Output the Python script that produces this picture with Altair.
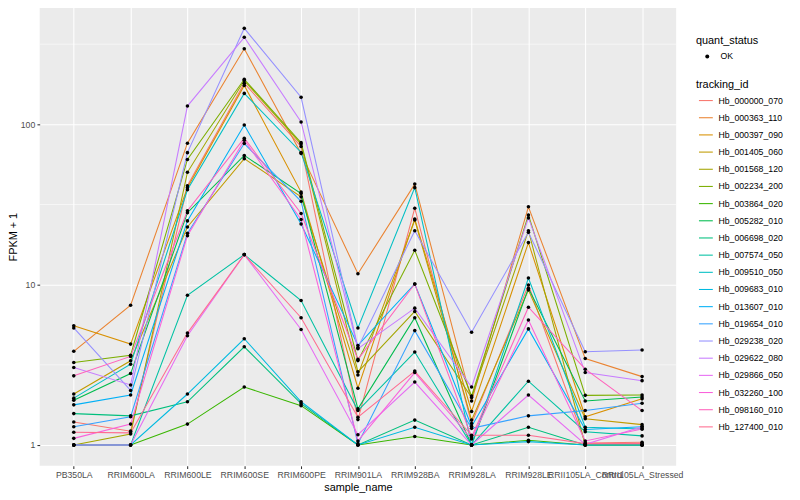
import math
import altair as alt
import pandas as pd

samples = ["PB350LA", "RRIM600LA", "RRIM600LE", "RRIM600SE", "RRIM600PE",
           "RRIM901LA", "RRIM928BA", "RRIM928LA", "RRIM928LE",
           "RRII105LA_Control", "RRII105LA_Stressed"]

tracking_ids = ["Hb_000000_070", "Hb_000363_110", "Hb_000397_090", "Hb_001405_060",
                "Hb_001568_120", "Hb_002234_200", "Hb_003864_020", "Hb_005282_010",
                "Hb_006698_020", "Hb_007574_050", "Hb_009510_050", "Hb_009683_010",
                "Hb_013607_010", "Hb_019654_010", "Hb_029238_020", "Hb_029622_080",
                "Hb_029866_050", "Hb_032260_100", "Hb_098160_010", "Hb_127400_010"]

# FPKM + 1 per sample (order of `samples`)
hb_000000_070 = [1.39, 1.22, 41.4, 180.6, 72.7, 1.44, 30.0, 1.36, 9.95, 1.03, 1.04]
hb_000363_110 = [3.84, 7.45, 76.3, 296, 65.9, 11.7, 42.4, 1.88, 30.6, 3.46, 2.67]
hb_000397_090 = [5.55, 4.26, 40.3, 174.8, 37.8, 2.26, 25.7, 1.62, 18.3, 1.50, 1.94]
hb_001405_060 = [2.08, 3.35, 22.9, 61.1, 35.3, 2.73, 25.3, 1.43, 9.26, 1.46, 1.34]
hb_001568_120 = [1.0, 1.17, 50.2, 187.6, 75.3, 2.86, 6.81, 1.98, 21.7, 1.0, 1.0]
hb_002234_200 = [3.27, 3.63, 60.4, 191, 76.9, 3.36, 16.4, 2.02, 27.2, 2.04, 2.05]
hb_003864_020 = [1.0, 1.0, 1.35, 2.3, 1.76, 1.0, 1.13, 1.0, 1.07, 1.0, 1.0]
hb_005282_010 = [1.90, 2.79, 28.1, 64, 37.0, 1.68, 6.22, 1.0, 9.49, 1.88, 1.99]
hb_006698_020 = [1.57, 1.52, 1.86, 4.1, 1.81, 1.0, 1.43, 1.0, 1.29, 1.0, 1.0]
hb_007574_050 = [1.0, 1.0, 8.59, 15.4, 7.96, 1.64, 3.80, 1.0, 2.50, 1.21, 1.14]
hb_009510_050 = [1.96, 3.19, 39.1, 156, 66.8, 5.37, 40.3, 1.0, 11.0, 1.29, 1.26]
hb_009683_010 = [1.0, 1.0, 2.08, 4.6, 1.86, 1.0, 1.29, 1.0, 1.05, 1.0, 1.0]
hb_013607_010 = [1.78, 2.05, 25.0, 99, 23.9, 4.18, 10.1, 1.31, 5.30, 1.25, 1.30]
hb_019654_010 = [1.30, 1.50, 20.9, 75.9, 33.1, 1.02, 5.17, 1.27, 1.52, 1.64, 1.82]
hb_029238_020 = [5.37, 2.19, 66.6, 397, 147.5, 4.04, 21.7, 5.05, 21.2, 3.82, 3.91]
hb_029622_080 = [3.04, 2.37, 130, 349, 103.5, 3.99, 7.14, 2.30, 26.1, 2.83, 2.52]
hb_029866_050 = [1.0, 1.0, 4.80, 15.4, 5.25, 1.16, 2.47, 1.0, 2.05, 1.01, 1.30]
hb_032260_100 = [1.10, 1.35, 20.2, 79.6, 25.5, 1.06, 2.83, 1.09, 6.02, 1.06, 1.26]
hb_098160_010 = [2.70, 3.57, 28.9, 82, 27.8, 3.42, 10.1, 1.12, 7.24, 2.97, 1.64]
hb_127400_010 = [1.20, 1.19, 4.99, 15.4, 6.22, 1.49, 2.89, 1.15, 1.15, 1.02, 1.02]

series = [hb_000000_070, hb_000363_110, hb_000397_090, hb_001405_060, hb_001568_120,
          hb_002234_200, hb_003864_020, hb_005282_010, hb_006698_020, hb_007574_050,
          hb_009510_050, hb_009683_010, hb_013607_010, hb_019654_010, hb_029238_020,
          hb_029622_080, hb_029866_050, hb_032260_100, hb_098160_010, hb_127400_010]

colors = ["#F8766D", "#EA8331", "#D89000", "#C09B00", "#A3A500", "#7CAE00", "#39B600",
          "#00BB4E", "#00BF7D", "#00C1A3", "#00BFC4", "#00BAE0", "#00B0F6", "#35A2FF",
          "#9590FF", "#C77CFF", "#E76BF3", "#FA62DB", "#FF62BC", "#FF6C90"]

y_major = [1, 10, 100]
y_minor = [10 ** 0.5, 10 ** 1.5, 10 ** 2.5]

rows = []
for tid, vals in zip(tracking_ids, series):
    for i, (s, v) in enumerate(zip(samples, vals)):
        rows.append({"tracking_id": tid, "sample_name": s, "idx": i,
                     "value": v, "quant_status": "OK"})
df = pd.DataFrame(rows)

# ggplot-like 5% expansion of the log range
lo = math.log10(df["value"].min())
hi = math.log10(df["value"].max())
ex = (hi - lo) * 0.05
domain = [10 ** (lo - ex), 10 ** (hi + ex)]

FONT = "Liberation Sans"

x_enc = alt.X("sample_name:N", sort=samples,
              scale=alt.Scale(type="point", padding=0.6),
              axis=alt.Axis(title="sample_name", labelAngle=0, grid=True,
                            gridColor="white", gridWidth=1.07, domain=False,
                            tickColor="#333333", tickSize=2.75, tickWidth=1.07,
                            labelColor="#4D4D4D", labelFontSize=8.8, labelPadding=2.2,
                            labelOverlap=False, labelBound=False, labelFlush=False,
                            titleFontSize=11, titleFontWeight="normal",
                            titleColor="black", titlePadding=2.5))

y_axis = alt.Axis(title="FPKM + 1", values=y_major, format="d", grid=True,
                  gridColor="white", gridWidth=1.07, domain=False,
                  tickColor="#333333", tickSize=2.75, tickWidth=1.07,
                  labelColor="#4D4D4D", labelFontSize=8.8, labelPadding=2.2,
                  titleFontSize=11, titleFontWeight="normal", titleColor="black",
                  titlePadding=1.5)
y_scale = alt.Scale(type="log", domain=domain, nice=False)

minor = alt.Chart(pd.DataFrame({"value": y_minor})).mark_rule(
    color="white", strokeWidth=0.55
).encode(y=alt.Y("value:Q", scale=y_scale, axis=y_axis))

lines = alt.Chart(df).mark_line(strokeWidth=1.07).encode(
    x=x_enc,
    y=alt.Y("value:Q", scale=y_scale, axis=y_axis),
    color=alt.Color("tracking_id:N",
                    scale=alt.Scale(domain=tracking_ids, range=colors),
                    legend=alt.Legend(title="tracking_id", orient="none",
                                      legendX=663, legendY=72,
                                      symbolType="stroke", symbolSize=196,
                                      symbolStrokeWidth=1.07, symbolOffset=2,
                                      labelOffset=4.7, rowPadding=4.35,
                                      titlePadding=3)),
    order=alt.Order("idx:Q"),
)

points = alt.Chart(df).mark_point(filled=True, size=13, opacity=1).encode(
    x=x_enc,
    y=alt.Y("value:Q", scale=y_scale, axis=y_axis),
    shape=alt.Shape("quant_status:N", scale=alt.Scale(range=["circle"]),
                    legend=alt.Legend(title="quant_status", orient="none",
                                      legendX=663, legendY=28,
                                      symbolSize=16, symbolFillColor="black",
                                      symbolStrokeColor="black", symbolOffset=7,
                                      labelOffset=9, titlePadding=6)),
    color=alt.value("black"),
)

chart = alt.layer(minor, lines, points).properties(
    width=643, height=463,
    autosize=alt.AutoSizeParams(type="none"),
    padding={"left": 32, "top": -3, "right": 117, "bottom": 32},
).configure(
    font=FONT,
).configure_view(
    fill="#EBEBEB", stroke=None,
).configure_legend(
    titleFontSize=11, titleFontWeight="normal", titleColor="black",
    labelFontSize=8.8, labelColor="black", titleFont=FONT, labelFont=FONT,
)

chart.save("out.html", embed_options={"renderer": "svg", "actions": False})
